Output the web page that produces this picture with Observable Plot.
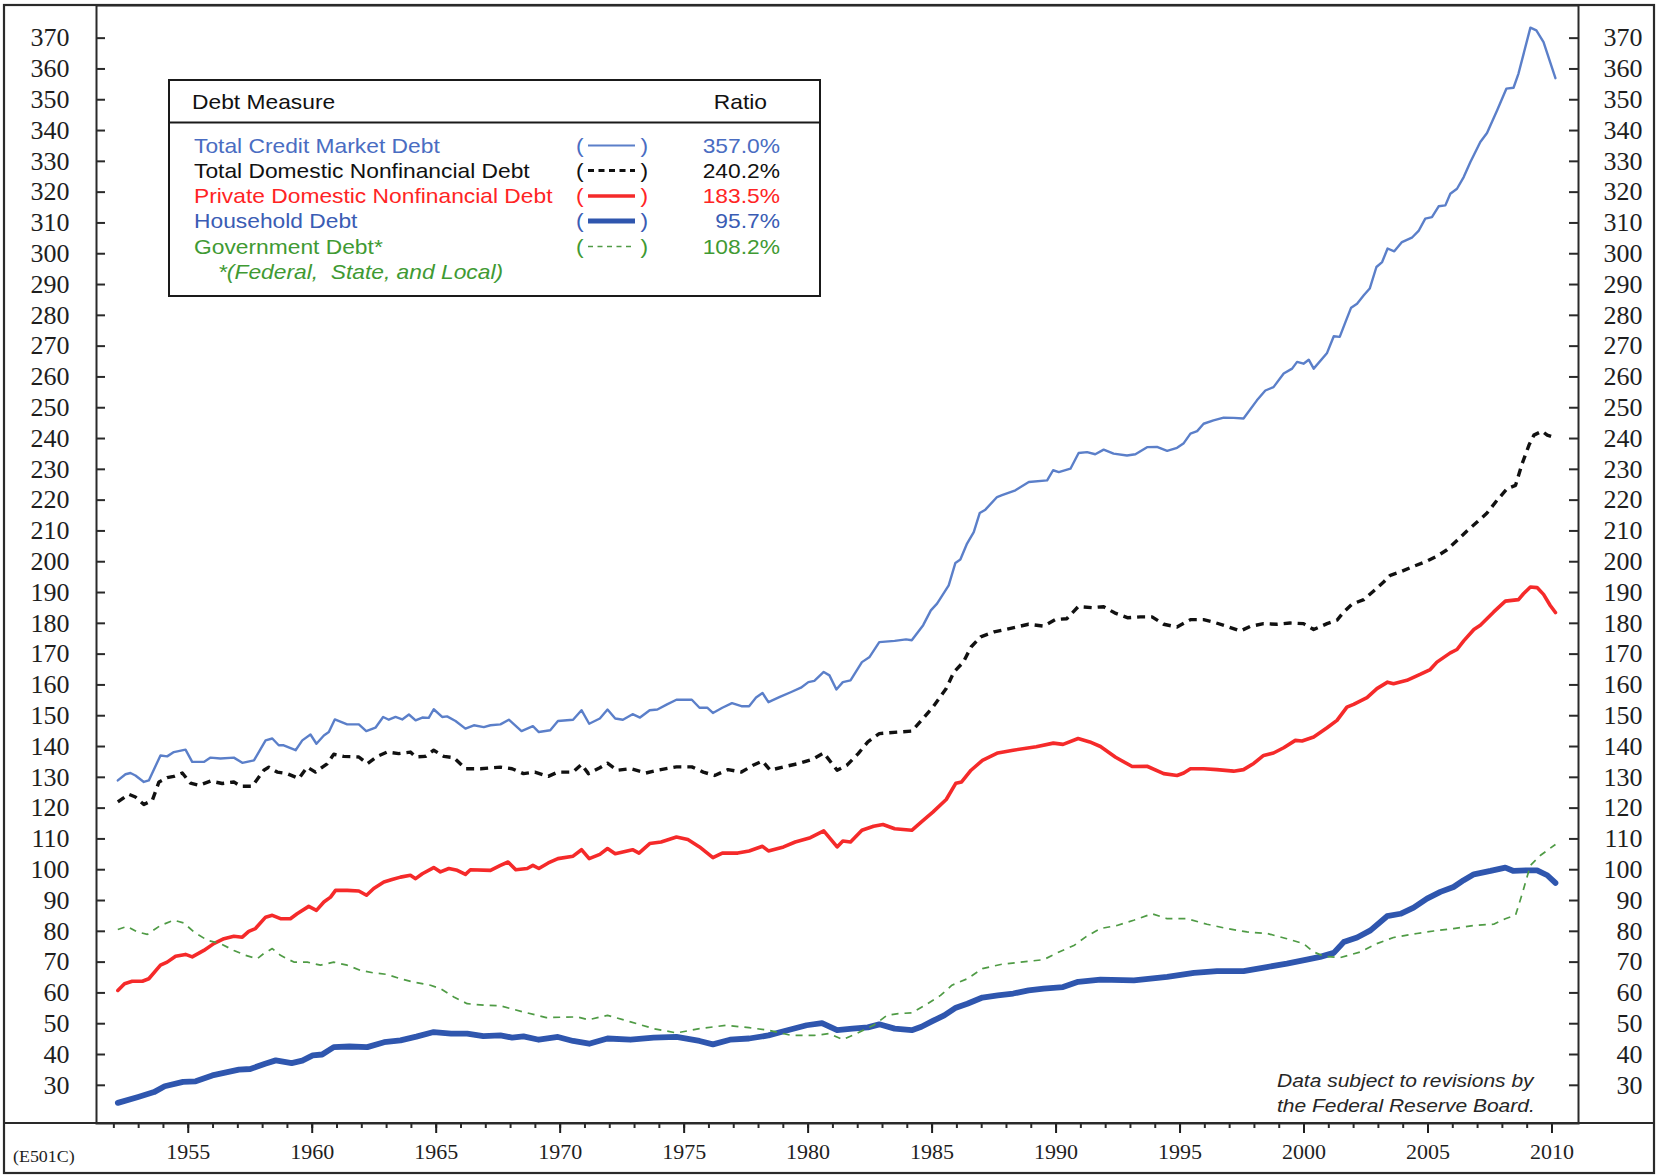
<!DOCTYPE html>
<html>
<head>
<meta charset="utf-8">
<script src="https://cdn.jsdelivr.net/npm/d3@7"></script>
<script src="https://cdn.jsdelivr.net/npm/@observablehq/plot@0.6"></script>
<style>
  html, body { margin: 0; padding: 0; background: #ffffff; }
  #wrap { position: relative; width: 1658px; height: 1175px; overflow: hidden; background: #fff; }
  #wrap svg.overlay { position: absolute; left: 0; top: 0; pointer-events: none; }
  #wrap svg.overlay text { white-space: pre; }
  #wrap figure, #wrap > svg { margin: 0; }
</style>
</head>
<body>
<div id="wrap"></div>
<script>
// ---------------- DATA ----------------
const seriesNames = [
  "Total Credit Market Debt",
  "Total Domestic Nonfinancial Debt",
  "Private Domestic Nonfinancial Debt",
  "Household Debt",
  "Government Debt*"
];
const latestRatios = ["357.0%", "240.2%", "183.5%", "95.7%", "108.2%"];
const footnoteText = "*(Federal,  State, and Local)";

const yTicks = d3.range(30, 371, 10);
const minorYears = d3.range(1952, 2011);
const majorYears = d3.range(1955, 2011, 5);

// [year, % of GDP]
const totalCreditMarketDebt = [[1952.16,129.0],[1952.47,131.0],[1952.67,131.4],[1952.87,130.6],[1953.21,128.5],[1953.41,129.0],[1953.88,137.1],[1954.15,136.8],[1954.42,138.2],[1954.89,139.0],[1955.16,135.0],[1955.63,135.0],[1955.90,136.4],[1956.30,136.1],[1956.84,136.4],[1957.18,134.7],[1957.65,135.5],[1958.12,142.0],[1958.39,142.6],[1958.65,140.4],[1958.85,140.4],[1959.33,138.8],[1959.60,142.0],[1959.93,143.9],[1960.17,140.9],[1960.47,143.6],[1960.67,144.7],[1960.91,148.8],[1961.41,147.2],[1961.88,147.2],[1962.18,145.0],[1962.55,146.1],[1962.86,149.6],[1963.09,148.7],[1963.36,149.6],[1963.63,148.8],[1963.90,150.4],[1964.17,148.5],[1964.44,149.4],[1964.70,149.3],[1964.90,152.1],[1965.24,149.6],[1965.44,149.8],[1965.78,148.3],[1966.18,145.8],[1966.52,146.9],[1966.92,146.3],[1967.19,146.9],[1967.59,147.2],[1967.93,148.7],[1968.44,145.0],[1968.90,146.6],[1969.14,144.7],[1969.60,145.3],[1969.91,148.3],[1970.52,148.7],[1970.86,151.8],[1971.17,147.4],[1971.60,149.1],[1971.91,152.0],[1972.22,149.1],[1972.53,148.7],[1972.92,150.5],[1973.22,149.4],[1973.61,151.8],[1973.92,152.0],[1974.31,153.7],[1974.69,155.2],[1975.31,155.2],[1975.62,152.6],[1975.93,152.6],[1976.16,150.9],[1976.54,152.6],[1976.93,154.1],[1977.31,153.1],[1977.62,153.1],[1977.90,155.9],[1978.16,157.4],[1978.40,154.4],[1978.86,156.1],[1979.32,157.7],[1979.71,159.1],[1980.01,160.9],[1980.25,161.3],[1980.63,164.2],[1980.86,163.1],[1981.14,158.5],[1981.40,160.9],[1981.71,161.5],[1982.17,167.4],[1982.48,169.1],[1982.87,173.9],[1983.49,174.3],[1983.95,174.8],[1984.18,174.5],[1984.64,179.4],[1984.95,184.2],[1985.20,186.4],[1985.67,192.3],[1985.94,199.6],[1986.14,200.7],[1986.41,205.9],[1986.68,209.6],[1986.92,215.8],[1987.15,216.9],[1987.62,221.0],[1987.82,221.6],[1988.36,223.2],[1988.90,225.9],[1989.64,226.4],[1989.88,229.7],[1990.11,229.1],[1990.58,230.2],[1990.91,235.3],[1991.25,235.6],[1991.58,234.9],[1991.92,236.4],[1992.32,235.1],[1992.86,234.5],[1993.20,234.9],[1993.67,237.2],[1994.07,237.3],[1994.48,236.0],[1994.88,237.0],[1995.15,238.5],[1995.42,241.6],[1995.69,242.4],[1995.95,244.8],[1996.35,245.9],[1996.76,246.8],[1997.16,246.7],[1997.56,246.5],[1998.10,252.4],[1998.44,255.6],[1998.77,256.7],[1999.18,261.1],[1999.52,262.7],[1999.72,264.9],[1999.98,264.3],[2000.19,265.6],[2000.39,262.7],[2000.93,267.8],[2001.20,273.2],[2001.44,273.0],[2001.67,277.8],[2001.90,282.5],[2002.14,283.8],[2002.41,286.5],[2002.65,288.7],[2002.92,295.7],[2003.15,297.3],[2003.37,301.7],[2003.64,300.8],[2003.95,303.8],[2004.35,305.2],[2004.62,307.4],[2004.89,311.4],[2005.16,311.9],[2005.43,315.4],[2005.70,315.7],[2005.90,319.5],[2006.17,321.1],[2006.44,324.9],[2006.71,329.8],[2007.11,336.3],[2007.38,339.2],[2007.79,346.6],[2008.16,353.6],[2008.45,353.9],[2008.65,358.5],[2009.13,373.4],[2009.37,372.5],[2009.66,368.7],[2010.14,357.0]];

const totalDomesticNonfinancialDebt = [[1952.16,122.0],[1952.60,124.5],[1952.87,123.6],[1953.21,121.2],[1953.55,122.5],[1953.82,128.5],[1954.15,129.9],[1954.42,130.3],[1954.76,131.4],[1955.09,128.1],[1955.43,127.4],[1955.90,128.8],[1956.37,128.0],[1956.84,128.5],[1957.11,127.1],[1957.58,127.1],[1958.05,132.3],[1958.25,133.3],[1958.59,131.7],[1958.99,131.2],[1959.46,129.6],[1959.80,133.3],[1960.13,131.7],[1960.60,134.4],[1960.87,137.5],[1961.27,136.8],[1961.88,136.6],[1962.22,134.4],[1962.62,136.8],[1963.02,138.2],[1963.49,137.7],[1963.96,138.2],[1964.17,136.6],[1964.57,136.8],[1964.90,138.8],[1965.31,136.8],[1965.71,136.4],[1966.18,132.8],[1966.79,132.8],[1967.59,133.3],[1968.06,132.8],[1968.52,131.2],[1968.98,131.7],[1969.52,130.3],[1969.91,131.7],[1970.52,131.7],[1970.86,134.2],[1971.14,131.2],[1971.60,133.1],[1971.91,134.6],[1972.30,132.3],[1972.84,132.8],[1973.46,131.4],[1973.92,132.3],[1974.69,133.4],[1975.31,133.4],[1975.77,131.7],[1976.23,130.6],[1976.77,132.5],[1977.31,131.7],[1977.78,133.9],[1978.16,135.3],[1978.47,132.3],[1979.01,133.4],[1979.63,134.5],[1980.17,135.8],[1980.63,137.9],[1981.17,132.3],[1981.56,133.9],[1982.02,137.7],[1982.41,141.5],[1982.87,144.2],[1983.64,144.7],[1984.18,145.0],[1984.57,148.5],[1985.03,152.8],[1985.57,158.8],[1985.88,164.2],[1986.26,167.4],[1986.57,172.3],[1986.96,175.6],[1987.50,177.2],[1988.12,178.3],[1988.89,179.7],[1989.50,179.1],[1989.97,181.2],[1990.43,181.5],[1990.89,185.4],[1991.45,185.1],[1991.92,185.4],[1992.36,183.4],[1992.90,181.8],[1993.40,182.1],[1993.87,182.1],[1994.34,179.7],[1994.88,178.8],[1995.42,181.2],[1995.95,181.2],[1996.35,180.4],[1996.89,179.0],[1997.43,177.5],[1997.83,179.0],[1998.37,179.9],[1998.91,179.7],[1999.44,180.1],[1999.98,179.9],[2000.39,178.0],[2000.93,179.9],[2001.33,181.0],[2001.60,183.7],[2001.93,186.2],[2002.41,187.7],[2002.81,190.5],[2003.21,193.4],[2003.48,195.6],[2003.89,196.7],[2004.42,198.5],[2004.96,200.2],[2005.36,201.8],[2005.77,203.9],[2006.17,206.9],[2006.57,210.0],[2006.98,212.9],[2007.38,215.8],[2007.79,220.0],[2008.19,223.7],[2008.53,224.8],[2008.80,231.9],[2009.07,237.8],[2009.27,241.1],[2009.60,242.4],[2009.81,241.1],[2010.14,240.2]];

const privateDomesticNonfinancialDebt = [[1952.16,60.8],[1952.43,63.0],[1952.74,63.8],[1953.15,63.8],[1953.41,64.6],[1953.88,69.0],[1954.15,70.0],[1954.49,71.9],[1954.89,72.5],[1955.16,71.7],[1955.63,73.8],[1956.03,76.0],[1956.44,77.6],[1956.84,78.4],[1957.18,78.1],[1957.44,80.0],[1957.71,80.9],[1958.12,84.6],[1958.39,85.2],[1958.72,84.1],[1959.12,84.1],[1959.39,85.7],[1959.86,88.1],[1960.17,86.8],[1960.47,89.5],[1960.74,91.1],[1960.94,93.3],[1961.41,93.3],[1961.88,93.1],[1962.19,91.7],[1962.48,93.9],[1962.89,96.0],[1963.22,96.8],[1963.56,97.6],[1963.96,98.2],[1964.17,97.1],[1964.44,98.7],[1964.90,100.7],[1965.17,99.3],[1965.51,100.4],[1965.85,99.8],[1966.18,98.5],[1966.38,100.0],[1967.19,99.8],[1967.59,101.4],[1967.90,102.5],[1968.21,100.0],[1968.67,100.4],[1968.90,101.4],[1969.14,100.4],[1969.52,102.2],[1969.91,103.6],[1970.52,104.4],[1970.86,106.5],[1971.17,103.6],[1971.60,105.0],[1971.91,106.9],[1972.22,105.2],[1972.92,106.5],[1973.18,105.4],[1973.61,108.5],[1974.07,109.0],[1974.69,110.6],[1975.15,109.8],[1975.62,107.4],[1976.16,103.9],[1976.54,105.4],[1977.16,105.4],[1977.62,106.1],[1978.16,107.6],[1978.40,106.1],[1979.01,107.4],[1979.48,109.0],[1980.09,110.4],[1980.63,112.6],[1981.17,107.4],[1981.40,109.3],[1981.71,109.0],[1982.17,112.8],[1982.64,114.1],[1983.02,114.7],[1983.49,113.3],[1984.18,112.8],[1984.57,115.5],[1985.03,118.7],[1985.57,122.8],[1985.96,128.1],[1986.19,128.5],[1986.57,132.3],[1987.03,135.5],[1987.65,137.9],[1988.27,138.8],[1989.20,139.9],[1989.89,141.1],[1990.28,140.7],[1990.89,142.6],[1991.36,141.5],[1991.79,140.0],[1992.40,136.5],[1993.07,133.5],[1993.67,133.6],[1994.34,131.2],[1994.88,130.6],[1995.15,131.4],[1995.42,132.8],[1995.95,132.8],[1996.49,132.5],[1997.16,132.0],[1997.56,132.5],[1997.97,134.5],[1998.37,137.1],[1998.77,137.9],[1999.18,139.6],[1999.65,142.0],[1999.92,141.8],[2000.39,143.1],[2000.93,146.1],[2001.33,148.5],[2001.73,152.8],[2002.00,153.7],[2002.54,155.9],[2002.94,158.8],[2003.37,160.9],[2003.61,160.4],[2004.15,161.5],[2004.68,163.4],[2005.09,165.0],[2005.36,167.4],[2005.90,170.4],[2006.17,171.5],[2006.44,174.3],[2006.85,178.0],[2007.11,179.4],[2007.65,183.7],[2008.12,187.2],[2008.65,187.7],[2008.85,189.6],[2009.13,191.8],[2009.40,191.6],[2009.66,189.4],[2009.93,185.8],[2010.14,183.5]];

const householdDebt = [[1952.16,24.3],[1952.98,26.2],[1953.62,27.8],[1954.05,29.7],[1954.79,31.1],[1955.30,31.3],[1955.97,33.2],[1957.04,35.1],[1957.50,35.3],[1958.10,37.0],[1958.53,38.1],[1959.17,37.2],[1959.60,38.0],[1960.02,39.7],[1960.40,40.0],[1960.87,42.4],[1961.50,42.6],[1962.22,42.4],[1962.90,44.0],[1963.56,44.6],[1964.20,45.8],[1964.90,47.3],[1965.60,46.8],[1966.25,46.8],[1966.90,46.0],[1967.59,46.2],[1968.06,45.5],[1968.52,45.9],[1969.14,44.8],[1969.91,45.7],[1970.52,44.4],[1971.17,43.5],[1971.91,45.2],[1972.84,44.8],[1973.77,45.5],[1974.69,45.7],[1975.62,44.4],[1976.16,43.3],[1976.85,44.8],[1977.62,45.2],[1978.40,46.2],[1979.17,47.9],[1979.94,49.5],[1980.56,50.2],[1981.17,47.9],[1981.79,48.4],[1982.41,48.8],[1982.87,49.8],[1983.49,48.4],[1984.18,47.9],[1984.57,49.0],[1985.03,50.9],[1985.49,52.7],[1985.96,55.2],[1986.42,56.5],[1987.03,58.5],[1987.65,59.2],[1988.27,59.8],[1988.89,60.8],[1989.50,61.4],[1990.28,61.9],[1990.89,63.6],[1991.79,64.3],[1993.14,64.1],[1994.48,65.2],[1995.56,66.5],[1996.49,67.1],[1997.56,67.1],[1998.50,68.4],[1999.31,69.5],[2000.11,70.8],[2000.65,71.7],[2001.20,73.0],[2001.60,76.5],[2002.14,78.0],[2002.68,80.3],[2003.35,84.9],[2003.89,85.7],[2004.42,87.7],[2004.96,90.6],[2005.50,92.8],[2006.03,94.4],[2006.44,96.6],[2006.85,98.5],[2007.52,99.6],[2008.12,100.7],[2008.45,99.6],[2008.99,99.8],[2009.40,99.8],[2009.81,98.2],[2010.14,95.7]];

const governmentDebt = [[1952.16,80.6],[1952.54,81.6],[1952.94,79.8],[1953.35,79.0],[1953.88,81.9],[1954.42,83.6],[1954.82,82.7],[1955.23,79.8],[1955.77,77.1],[1956.30,76.0],[1956.84,73.8],[1957.31,72.2],[1957.78,71.1],[1958.05,72.8],[1958.39,74.4],[1958.72,72.2],[1959.26,70.0],[1959.80,70.0],[1960.33,69.0],[1960.87,70.0],[1961.41,69.0],[1961.95,67.3],[1962.48,66.5],[1963.02,66.0],[1963.56,64.6],[1964.10,63.5],[1964.77,62.5],[1965.17,61.4],[1965.71,58.7],[1966.25,56.5],[1966.92,56.0],[1967.59,55.8],[1968.52,53.8],[1969.44,52.0],[1970.68,52.2],[1971.14,51.3],[1971.91,52.7],[1972.84,50.6],[1973.77,48.4],[1974.69,47.0],[1975.62,48.4],[1976.70,49.5],[1977.62,48.7],[1978.40,47.9],[1979.32,46.2],[1980.25,46.2],[1980.86,46.8],[1981.40,44.8],[1981.94,46.8],[1982.64,49.5],[1983.18,52.7],[1983.64,53.3],[1984.18,53.5],[1984.72,56.0],[1985.34,59.2],[1985.80,62.5],[1986.42,64.6],[1987.03,67.9],[1987.81,69.3],[1988.58,70.0],[1989.50,70.8],[1990.12,73.3],[1990.74,75.5],[1991.20,78.2],[1991.79,80.9],[1992.46,81.9],[1993.13,83.6],[1993.87,85.7],[1994.48,84.1],[1995.28,84.1],[1996.09,82.3],[1996.89,80.9],[1997.70,79.8],[1998.51,79.3],[1999.31,77.6],[1999.98,76.0],[2000.39,73.3],[2000.80,71.9],[2001.47,71.5],[2002.27,73.3],[2002.94,76.0],[2003.61,78.0],[2004.56,79.3],[2005.23,80.1],[2006.03,80.9],[2006.85,81.9],[2007.65,82.3],[2008.12,84.1],[2008.53,85.2],[2008.80,92.2],[2009.13,101.4],[2009.54,104.7],[2010.14,108.2]];

// ---------------- STYLES ----------------
const seriesData = [totalCreditMarketDebt, totalDomesticNonfinancialDebt, privateDomesticNonfinancialDebt, householdDebt, governmentDebt];
const lineColors = ["#5b7fc9", "#111111", "#f52a2a", "#2f56ae", "#4f9b45"];
const textColors = ["#4a6dc2", "#111111", "#ff2424", "#3a5cb4", "#3f9a33"];
const lineWidths = [2.4, 3.4, 3.6, 5.8, 1.7];
const lineDashes = [null, "8,6", null, null, "7,6"];

const W = 1658, H = 1175;
const M = {left: 96, right: 80, top: 5, bottom: 52};
const plotW = W - M.left - M.right;
const xDomain = [1951.30, 2011.07];
const yDomain = [17.6, 380.6];
const serif = "'Liberation Serif', 'DejaVu Serif', serif";
const sans = "'Liberation Sans', Arial, sans-serif";

const lineMarks = seriesData.map((data, i) =>
  Plot.line(data, {
    x: d => d[0], y: d => d[1],
    stroke: lineColors[i], strokeWidth: lineWidths[i],
    strokeDasharray: lineDashes[i],
    strokeLinejoin: "round", strokeLinecap: lineDashes[i] ? "butt" : "round"
  })
);

const chart = Plot.plot({
  width: W, height: H,
  marginLeft: M.left, marginRight: M.right, marginTop: M.top, marginBottom: M.bottom,
  x: {domain: xDomain},
  y: {domain: yDomain},
  style: {background: "transparent", overflow: "visible"},
  marks: [
    Plot.tickY(yTicks, {y: d => d, insetRight: plotW - 9, stroke: "#2a2a2a", strokeWidth: 2}),
    Plot.tickY(yTicks, {y: d => d, insetLeft: plotW - 9, stroke: "#2a2a2a", strokeWidth: 2}),
    Plot.axisY({ticks: yTicks, anchor: "left", tickSize: 0, tickPadding: 27, tickFormat: d => String(d),
      fontSize: 26, fontFamily: serif, color: "#1e1e1e", label: null}),
    Plot.axisY({ticks: yTicks, anchor: "right", tickSize: 0, tickPadding: 64, textAnchor: "end", tickFormat: d => String(d),
      fontSize: 26, fontFamily: serif, color: "#1e1e1e", label: null}),
    Plot.axisX({ticks: minorYears, anchor: "bottom", tickSize: 5, tickFormat: () => "", strokeWidth: 2, color: "#2a2a2a", label: null}),
    Plot.axisX({ticks: majorYears, anchor: "bottom", tickSize: 10, tickPadding: 10, tickFormat: d => String(d),
      fontSize: 22, fontFamily: serif, strokeWidth: 2, color: "#1e1e1e", label: null}),
    ...lineMarks,
    Plot.frame({stroke: "#2a2a2a", strokeWidth: 2})
  ]
});

const wrap = document.getElementById("wrap");
wrap.appendChild(chart);

// ---------------- OVERLAY: frame, legend box, notes ----------------
const ov = d3.select(wrap).append("svg")
  .attr("class", "overlay").attr("width", W).attr("height", H);

ov.append("rect").attr("x", 4).attr("y", 5).attr("width", 1650).attr("height", 1168)
  .attr("fill", "none").attr("stroke", "#2a2a2a").attr("stroke-width", 2.2);
ov.append("line").attr("x1", 4).attr("x2", 1654).attr("y1", 1123).attr("y2", 1123)
  .attr("stroke", "#2a2a2a").attr("stroke-width", 2);

function txt(x, y, s, o = {}) {
  const sx = o.sx ?? 1.14;
  return ov.append("text")
    .attr("transform", `translate(${x},${y}) scale(${sx},1)`)
    .attr("text-anchor", o.anchor || "start")
    .attr("font-family", o.family || sans)
    .attr("font-size", o.size || 20)
    .attr("font-style", o.italic ? "italic" : "normal")
    .attr("font-weight", o.weight || "normal")
    .attr("fill", o.color || "#111")
    .attr("xml:space", "preserve")
    .text(s);
}

// legend box
ov.append("rect").attr("x", 169).attr("y", 80).attr("width", 651).attr("height", 216)
  .attr("fill", "#fff").attr("stroke", "#1a1a1a").attr("stroke-width", 2);
ov.append("line").attr("x1", 169).attr("x2", 820).attr("y1", 122.5).attr("y2", 122.5)
  .attr("stroke", "#1a1a1a").attr("stroke-width", 2);
txt(192, 109, "Debt Measure");
txt(767, 109, "Ratio", {anchor: "end"});

const rowBase = [152.5, 177.5, 203, 228, 253.5];
seriesNames.forEach((name, i) => {
  const yb = rowBase[i];
  txt(194, yb, name, {color: textColors[i]});
  txt(576, yb, "(", {color: textColors[i]});
  txt(648, yb, ")", {color: textColors[i], anchor: "end"});
  ov.append("line").attr("x1", 588).attr("x2", 635).attr("y1", yb - 7).attr("y2", yb - 7)
    .attr("stroke", lineColors[i])
    .attr("stroke-width", [2, 3, 3.6, 5.2, 1.6][i])
    .attr("stroke-dasharray", [null, "6,4.5", null, null, "5,4.5"][i]);
  txt(780, yb, latestRatios[i], {color: textColors[i], anchor: "end"});
});
txt(218, 278.5, footnoteText, {color: textColors[4], italic: true});

// notes
txt(1277, 1086.5, "Data subject to revisions by", {italic: true, size: 17.5, sx: 1.2, color: "#262626"});
txt(1277, 1112, "the Federal Reserve Board.", {italic: true, size: 17.5, sx: 1.2, color: "#262626"});
txt(13, 1162, "(E501C)", {family: serif, size: 16, color: "#1e1e1e", sx: 1.12});
</script>
</body>
</html>
